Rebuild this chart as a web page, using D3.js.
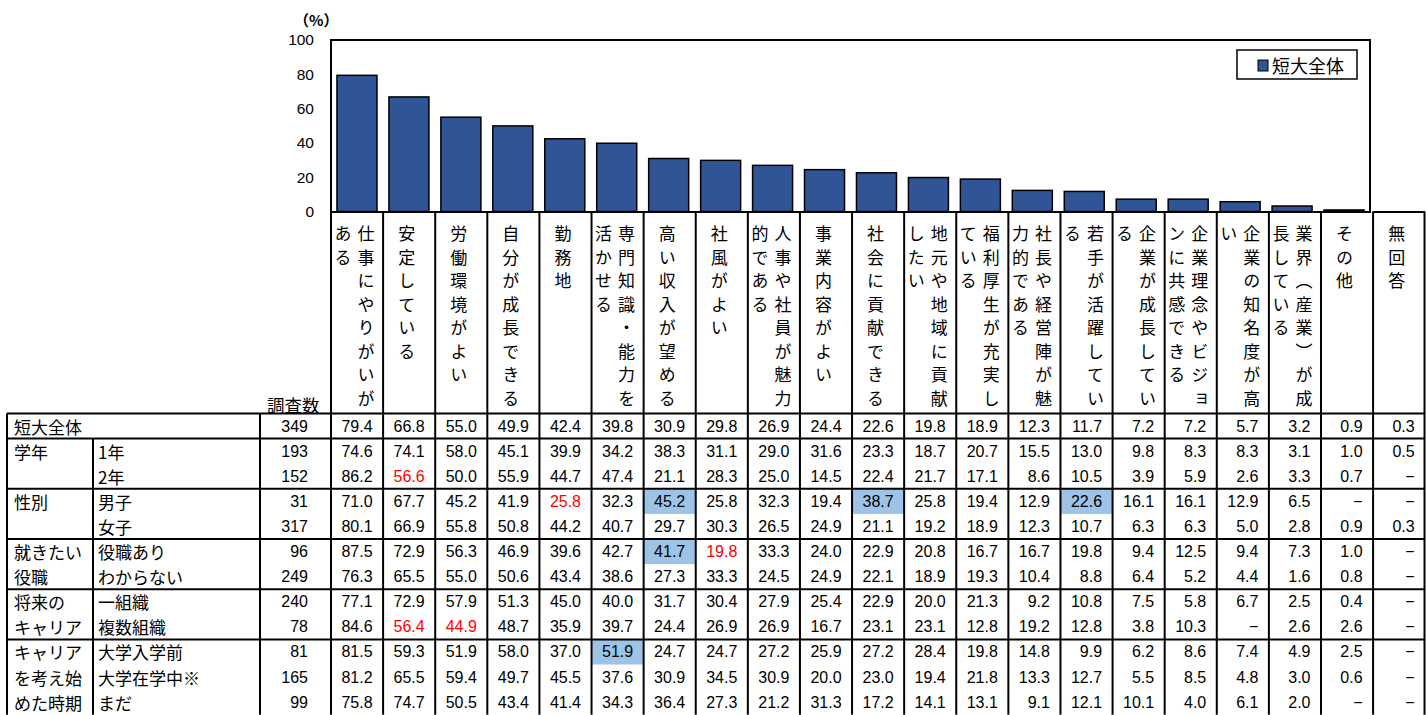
<!DOCTYPE html>
<html>
<head>
<meta charset="utf-8">
<script src="https://cdn.jsdelivr.net/npm/d3@7"></script>
<style>
  html, body { margin: 0; padding: 0; background: #fff; }
  svg { display: block; }
</style>
</head>
<body>
<svg id="chart" width="1426" height="715"></svg>
<script>
// ---- data ----
const categories = [
  "仕事にやりがいがある", "安定している", "労働環境がよい", "自分が成長できる", "勤務地",
  "専門知識・能力を活かせる", "高い収入が望める", "社風がよい", "人事や社員が魅力的である",
  "事業内容がよい", "社会に貢献できる", "地元や地域に貢献したい", "福利厚生が充実している",
  "社長や経営陣が魅力的である", "若手が活躍している", "企業が成長している",
  "企業理念やビジョンに共感できる", "企業の知名度が高い", "業界（産業）が成長している",
  "その他", "無回答"
];
const seriesName = "短大全体";
const yTicks = [0, 20, 40, 60, 80, 100];

const rowNames = ["短大全体", "1年", "2年", "男子", "女子", "役職あり", "わからない",
  "一組織", "複数組織", "大学入学前", "大学在学中※", "まだ"];
const sampleSizes = [349, 193, 152, 31, 317, 96, 249, 240, 78, 81, 165, 99];

// null = "−"
const valsAll        = [79.4, 66.8, 55.0, 49.9, 42.4, 39.8, 30.9, 29.8, 26.9, 24.4, 22.6, 19.8, 18.9, 12.3, 11.7, 7.2, 7.2, 5.7, 3.2, 0.9, 0.3];
const valsYear1      = [74.6, 74.1, 58.0, 45.1, 39.9, 34.2, 38.3, 31.1, 29.0, 31.6, 23.3, 18.7, 20.7, 15.5, 13.0, 9.8, 8.3, 8.3, 3.1, 1.0, 0.5];
const valsYear2      = [86.2, 56.6, 50.0, 55.9, 44.7, 47.4, 21.1, 28.3, 25.0, 14.5, 22.4, 21.7, 17.1, 8.6, 10.5, 3.9, 5.9, 2.6, 3.3, 0.7, null];
const valsMale       = [71.0, 67.7, 45.2, 41.9, 25.8, 32.3, 45.2, 25.8, 32.3, 19.4, 38.7, 25.8, 19.4, 12.9, 22.6, 16.1, 16.1, 12.9, 6.5, null, null];
const valsFemale     = [80.1, 66.9, 55.8, 50.8, 44.2, 40.7, 29.7, 30.3, 26.5, 24.9, 21.1, 19.2, 18.9, 12.3, 10.7, 6.3, 6.3, 5.0, 2.8, 0.9, 0.3];
const valsPosYes     = [87.5, 72.9, 56.3, 46.9, 39.6, 42.7, 41.7, 19.8, 33.3, 24.0, 22.9, 20.8, 16.7, 16.7, 19.8, 9.4, 12.5, 9.4, 7.3, 1.0, null];
const valsPosUnknown = [76.3, 65.5, 55.0, 50.6, 43.4, 38.6, 27.3, 33.3, 24.5, 24.9, 22.1, 18.9, 19.3, 10.4, 8.8, 6.4, 5.2, 4.4, 1.6, 0.8, null];
const valsOneOrg     = [77.1, 72.9, 57.9, 51.3, 45.0, 40.0, 31.7, 30.4, 27.9, 25.4, 22.9, 20.0, 21.3, 9.2, 10.8, 7.5, 5.8, 6.7, 2.5, 0.4, null];
const valsMultiOrg   = [84.6, 56.4, 44.9, 48.7, 35.9, 39.7, 24.4, 26.9, 26.9, 16.7, 23.1, 23.1, 12.8, 19.2, 12.8, 3.8, 10.3, null, 2.6, 2.6, null];
const valsBefore     = [81.5, 59.3, 51.9, 58.0, 37.0, 51.9, 24.7, 24.7, 27.2, 25.9, 27.2, 28.4, 19.8, 14.8, 9.9, 6.2, 8.6, 7.4, 4.9, 2.5, null];
const valsDuring     = [81.2, 65.5, 59.4, 49.7, 45.5, 37.6, 30.9, 34.5, 30.9, 20.0, 23.0, 19.4, 21.8, 13.3, 12.7, 5.5, 8.5, 4.8, 3.0, 0.6, null];
const valsNotYet     = [75.8, 74.7, 50.5, 43.4, 41.4, 34.3, 36.4, 27.3, 21.2, 31.3, 17.2, 14.1, 13.1, 9.1, 12.1, 10.1, 4.0, 6.1, 2.0, null, null];

const rowValues = [valsAll, valsYear1, valsYear2, valsMale, valsFemale, valsPosYes,
  valsPosUnknown, valsOneOrg, valsMultiOrg, valsBefore, valsDuring, valsNotYet];

// group label lines, the row each group starts on
const groupLines = [["学年"], ["性別"], ["就きたい", "役職"], ["将来の", "キャリア"], ["キャリア", "を考え始", "めた時期"]];
const groupStart = [1, 3, 5, 7, 9];

// [row, column] cells with a shaded background / red text
const shadedCells = [[3, 6], [3, 10], [3, 14], [5, 6], [9, 5]];
const redCells    = [[2, 1], [3, 4], [5, 7], [8, 1], [8, 2]];

// ---- layout ----
const svg = d3.select("#chart");
const JP = "'Noto Sans CJK JP', 'Noto Sans', sans-serif";
const NUM = "'Liberation Sans', Arial, sans-serif";
const BAR = "#2F5597";
const SHADE = "#9DC3E6";

const plot = { left: 331, right: 1370, top: 40, bottom: 211.5 };
const tableTop = 413.5, rowH = 25.1;
const tableLeft = 7, subLeft = 93, nLeft = 260;

const col = d3.scaleBand().domain(categories).range([331, 1425.2]);
const xBar = d3.scaleBand().domain(categories.slice(0, 20))
  .range([plot.left, plot.right]).paddingInner(0.23).paddingOuter(0.115);
const y = d3.scaleLinear().domain([0, 100]).range([plot.bottom, plot.top]);
const row = d3.scaleBand().domain(d3.range(rowNames.length))
  .range([tableTop, tableTop + rowH * rowNames.length]);

// ---- shaded cells (under grid lines) ----
svg.append("g").selectAll("rect").data(shadedCells).join("rect")
  .attr("x", d => col(categories[d[1]]))
  .attr("y", d => row(d[0]))
  .attr("width", col.bandwidth())
  .attr("height", row.bandwidth())
  .attr("fill", SHADE);

// ---- bars ----
svg.append("g").selectAll("rect").data(categories.slice(0, 20)).join("rect")
  .attr("x", d => xBar(d))
  .attr("y", (d, i) => y(valsAll[i]))
  .attr("width", xBar.bandwidth())
  .attr("height", (d, i) => y(0) - y(valsAll[i]))
  .attr("fill", BAR)
  .attr("stroke", "#000")
  .attr("stroke-width", 1.5);

// ---- axis ----
const axis = svg.append("g")
  .attr("transform", `translate(${plot.left},0)`)
  .call(d3.axisLeft(y).tickValues(yTicks).tickSize(0).tickPadding(17));
axis.select(".domain").remove();
axis.selectAll("text").attr("font-family", NUM).attr("font-size", 15.5).attr("fill", "#000");

svg.append("text").attr("x", 294).attr("y", 19).attr("dominant-baseline", "central")
  .attr("font-family", JP).attr("font-size", 15).attr("font-weight", "bold").text("（%）");

// plot frame
svg.append("rect")
  .attr("x", plot.left).attr("y", plot.top)
  .attr("width", plot.right - plot.left).attr("height", plot.bottom + 0.5 - plot.top)
  .attr("fill", "none").attr("stroke", "#000").attr("stroke-width", 2);

// ---- legend ----
const lg = svg.append("g");
lg.append("rect").attr("x", 1237).attr("y", 50).attr("width", 120).attr("height", 29)
  .attr("fill", "#fff").attr("stroke", "#000").attr("stroke-width", 1.5);
lg.append("rect").attr("x", 1258).attr("y", 60).attr("width", 10).attr("height", 11)
  .attr("fill", BAR).attr("stroke", "#000").attr("stroke-width", 1);
lg.append("text").attr("x", 1272).attr("y", 65).attr("dominant-baseline", "central")
  .attr("font-family", JP).attr("font-size", 18).text(seriesName);

// ---- column headers (vertical text, 8 characters per line, right to left) ----
const hdrTop = 212, pitch = 23.5, hdrFont = 17;
const headers = svg.append("g");
categories.forEach((c, i) => {
  const chars = Array.from(c);
  const lines = d3.range(0, chars.length, 8).map(k => chars.slice(k, k + 8).join(""));
  const cx = col(c) + col.bandwidth() / 2 - 2.5;
  lines.forEach((ln, j) => {
    const lx = cx + 11.5 * (lines.length - 1) - 23 * j;
    headers.append("text")
      .attr("x", lx).attr("y", 225.5)
      .attr("writing-mode", "vertical-rl")
      .attr("font-family", JP).attr("font-size", hdrFont)
      .attr("letter-spacing", pitch - hdrFont)
      .text(ln);
  });
});
svg.append("text").attr("x", 267).attr("y", 404).attr("dominant-baseline", "central")
  .attr("font-family", JP).attr("font-size", 17.5).text("調査数");

// ---- table text ----
const body = svg.append("g");
rowNames.forEach((r, ri) => {
  const cy = row(ri) + row.bandwidth() / 2;
  body.append("text").attr("x", ri === 0 ? 14 : 98).attr("y", cy)
    .attr("dominant-baseline", "central").attr("font-family", JP).attr("font-size", 17).text(r);
  body.append("text").attr("x", 308).attr("y", cy).attr("text-anchor", "end")
    .attr("dominant-baseline", "central").attr("font-family", NUM).attr("font-size", 16)
    .text(sampleSizes[ri]);
  rowValues[ri].forEach((v, ci) => {
    const red = redCells.some(d => d[0] === ri && d[1] === ci);
    body.append("text")
      .attr("x", col(categories[ci]) + col.bandwidth() - 10.5)
      .attr("y", cy)
      .attr("text-anchor", "end").attr("dominant-baseline", "central")
      .attr("font-family", NUM).attr("font-size", 16)
      .attr("fill", red ? "#FF0000" : "#000")
      .text(v === null ? "−" : d3.format(".1f")(v));
  });
});
groupLines.forEach((lines, gi) => {
  lines.forEach((t, li) => {
    body.append("text").attr("x", 14)
      .attr("y", row(groupStart[gi] + li) + row.bandwidth() / 2)
      .attr("dominant-baseline", "central").attr("font-family", JP).attr("font-size", 17)
      .text(t);
  });
});

// ---- grid lines ----
const grid = svg.append("g").attr("stroke", "#000").attr("stroke-width", 2);
const tableBottom = tableTop + rowH * rowNames.length;
// horizontal: top of table, after the overall row, and between groups
const hLines = [tableTop, row(1)].concat(groupStart.slice(1).map(g => row(g)));
hLines.forEach(yy => grid.append("line")
  .attr("x1", tableLeft).attr("x2", 1425.2).attr("y1", yy).attr("y2", yy));
// vertical: left columns
grid.append("line").attr("x1", tableLeft).attr("x2", tableLeft).attr("y1", tableTop).attr("y2", tableBottom);
grid.append("line").attr("x1", subLeft).attr("x2", subLeft).attr("y1", row(1)).attr("y2", tableBottom);
grid.append("line").attr("x1", nLeft).attr("x2", nLeft).attr("y1", tableTop).attr("y2", tableBottom);
// vertical: data columns through the header
categories.forEach((c) => {
  const xx = col(c);
  grid.append("line").attr("x1", xx).attr("x2", xx).attr("y1", plot.bottom).attr("y2", tableBottom);
});
grid.append("line").attr("x1", 1424.5).attr("x2", 1424.5).attr("y1", hdrTop).attr("y2", tableBottom);
// box top for the last header cell
grid.append("line").attr("x1", col(categories[20])).attr("x2", 1425.2).attr("y1", hdrTop).attr("y2", hdrTop);
</script>
</body>
</html>
